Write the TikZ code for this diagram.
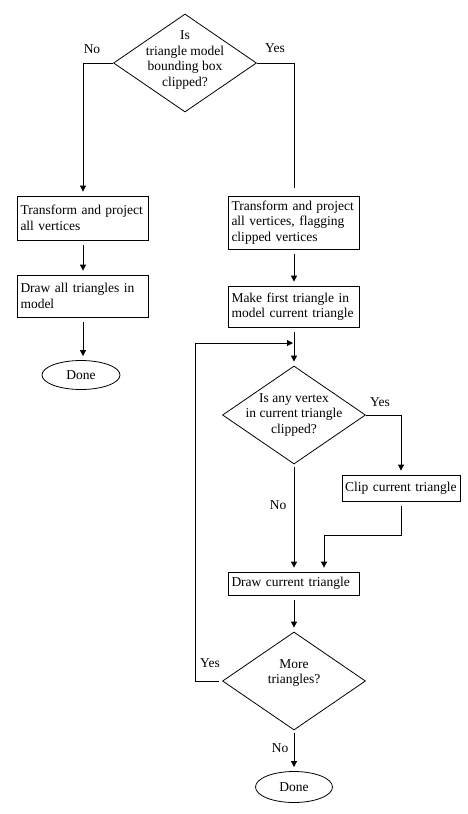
\documentclass[tikz,border=0pt]{standalone}
\usepackage{fontspec}
\setmainfont{Liberation Serif}
\usetikzlibrary{arrows.meta}
\usetikzlibrary{shapes.geometric}

\tikzset{
  every node/.style={font=\fontsize{13.5}{15.5}\selectfont},
  box/.style={draw, rectangle, text width=125pt, inner xsep=3pt, inner ysep=2pt, align=left},
  query/.style={draw, diamond, inner sep=0pt, minimum width=143pt, minimum height=98pt},
  qtext/.style={align=center},
  term/.style={draw, ellipse, inner sep=0pt, minimum width=78pt, minimum height=29pt},
  flow/.style={->, shorten <=5pt, shorten >=4pt},
}

\begin{document}
\begin{tikzpicture}[x=1pt,y=-1pt,line width=0.8pt,>={Triangle[length=6pt,width=6pt]}]
    \useasboundingbox (0,0) rectangle (468,814);

    % first question
    \node[query, label={[qtext,yshift=3pt]center:{Is\\triangle model\\bounding box\\clipped?}}] (bbox) at (185,63) {};

    % left column
    \node[box, minimum height=44pt] (lproj) at (83,218) {Transform and project all vertices};
    \node[box, minimum height=42pt] (ldraw) at (83,296) {Draw all triangles in model};
    \node[term] (ldone) at (81,375) {Done};

    % right column
    \node[box, minimum height=53pt] (rproj) at (294,222.5) {Transform and project all vertices, flagging clipped vertices};
    \node[box, minimum height=41pt] (first) at (294,306.5) {Make first triangle in model current triangle};
    \node[query, label={[qtext]center:{Is any vertex\\in current triangle\\clipped?}}] (anyclip) at (294,415) {};
    \node[box, text width=112pt, minimum height=26pt] (clip) at (401,488) {Clip current triangle};
    \node[box, minimum height=23pt] (draw) at (294,583.5) {Draw current triangle};
    \node[query, label={[qtext,yshift=8pt]center:{More\\triangles?}}] (more) at (294,681) {};
    \node[term, minimum width=77pt, minimum height=31pt] (rdone) at (294,787) {Done};

    \coordinate (loopend) at (294,343);
    \coordinate (merge) at (324,535);

    % connectors
    \draw[flow, shorten <=0pt] (bbox.west) -| (lproj.north);
    \draw[shorten >=8pt] (bbox.east) -| (rproj.north);
    \draw[flow] (lproj) -- (ldraw);
    \draw[flow] (ldraw.south) -- (ldraw.south |- ldone.north);
    \draw[flow] (rproj) -- (first);
    \draw[flow] (first.south) -- (anyclip.north);
    \draw[flow, shorten <=0pt] (anyclip.east) -| (clip.north);
    \draw[flow, shorten <=3pt] (anyclip.south) -- (anyclip.south |- draw.north);
    \draw[flow] (clip.south) |- (merge) -- (merge |- draw.north);
    \draw[flow] (draw.south) -- (more.north);
    \draw[flow, shorten <=3pt, shorten >=1pt] (more.west) -- ++(-27,0) |- (loopend);
    \draw[flow, shorten <=3pt] (more.south) -- (rdone.north);

    % branch labels
    \node (no1) at (92,49) {No};
    \node (yes1) at (275,48) {Yes};
    \node (yes2) at (380,402) {Yes};
    \node (no2) at (278,505) {No};
    \node (yes3) at (210,663) {Yes};
    \node (no3) at (280,748) {No};
\end{tikzpicture}
\end{document}
